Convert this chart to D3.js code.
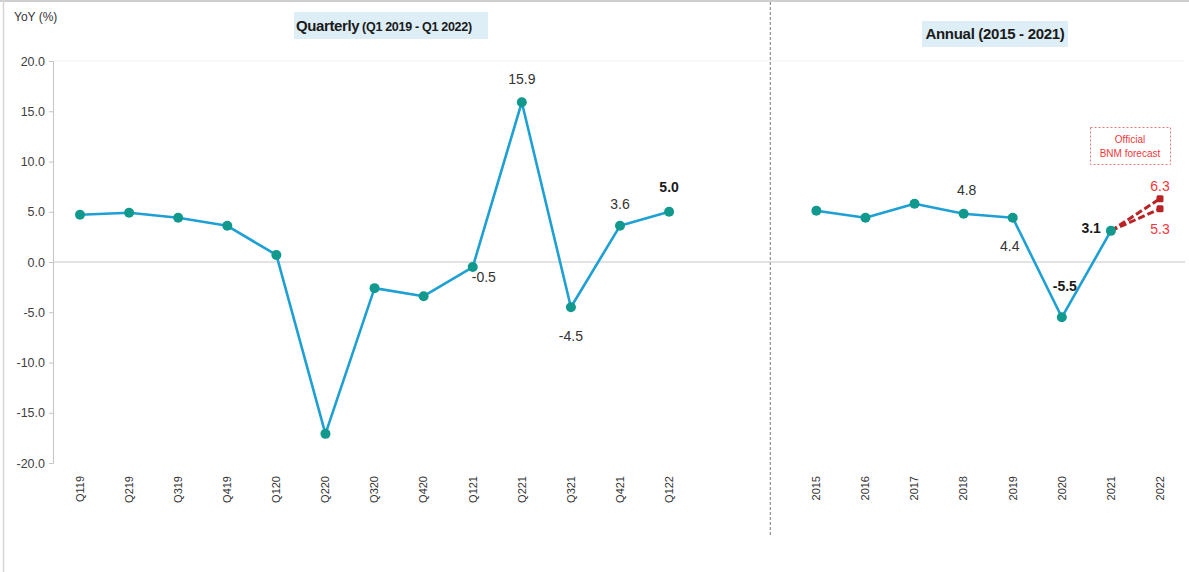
<!DOCTYPE html>
<html>
<head>
<meta charset="utf-8">
<script src="https://cdnjs.cloudflare.com/ajax/libs/d3/7.8.5/d3.min.js"></script>
<style>
  body { margin: 0; background: #fff; }
  svg { display: block; font-family: "Liberation Sans", Arial, sans-serif; }
</style>
</head>
<body>
<svg width="1189" height="572"></svg>
<script>
// data
var quarters = ["Q119","Q219","Q319","Q419","Q120","Q220","Q320","Q420","Q121","Q221","Q321","Q421","Q122"];
var quarterlyGrowth = [4.7, 4.9, 4.4, 3.6, 0.7, -17.1, -2.6, -3.4, -0.5, 15.9, -4.5, 3.6, 5.0];
var years = ["2015","2016","2017","2018","2019","2020","2021"];
var annualGrowth = [5.1, 4.4, 5.8, 4.8, 4.4, -5.5, 3.1];
var forecastYear = "2022";
var forecast2022 = [6.3, 5.3];
var yTicks = [-20, -15, -10, -5, 0, 5, 10, 15, 20];

var svg = d3.select("svg");
var width = 1189, height = 572;

var gaps = ["gapA", "gapB"];
var domain = quarters.concat(gaps, years, [forecastYear]);

var x = d3.scalePoint().domain(domain).range([80, 1160]);
var y = d3.scaleLinear().domain([-20, 20]).range([463, 61]);

// frame
svg.append("rect").attr("x", 0).attr("y", 0).attr("width", width).attr("height", 2).attr("fill", "#cfcfcf");
svg.append("line").attr("x1", 3.5).attr("x2", 3.5).attr("y1", 0).attr("y2", height)
    .attr("stroke", "#d6d6d6").attr("stroke-width", 1.5);

// faint plot top
svg.append("line").attr("x1", 53).attr("x2", 1185).attr("y1", y(20)).attr("y2", y(20))
    .attr("stroke", "#f3f3f3");

// divider
svg.append("line")
    .attr("x1", x("gapB") + 3).attr("x2", x("gapB") + 3)
    .attr("y1", 2).attr("y2", 536)
    .attr("stroke", "#7a7a7a").attr("stroke-width", 1).attr("stroke-dasharray", "3,2");

// y axis
var yAxis = svg.append("g")
    .attr("transform", "translate(53,0)")
    .call(d3.axisLeft(y).tickValues(yTicks).tickSize(4).tickFormat(function (d) { return d.toFixed(1); }));
yAxis.select(".domain").attr("stroke", "#c4c4c4");
yAxis.selectAll(".tick line").attr("stroke", "#c4c4c4");
yAxis.selectAll(".tick text").attr("font-size", 12.5).attr("fill", "#404040")
    .attr("font-family", "Liberation Sans, Arial, sans-serif").attr("x", -8);

// zero line
svg.append("line").attr("x1", 53).attr("x2", 1185).attr("y1", y(0)).attr("y2", y(0))
    .attr("stroke", "#c8c8c8").attr("stroke-width", 1.2);

// x labels
svg.append("g").selectAll("text")
    .data(domain.filter(function (d) { return gaps.indexOf(d) < 0; }))
    .enter().append("text")
    .attr("transform", function (d) { return "translate(" + x(d) + ",476) rotate(-90)"; })
    .attr("dy", "0.35em")
    .attr("text-anchor", "end")
    .attr("font-size", 11)
    .attr("fill", "#333")
    .text(function (d) { return d; });

// y unit
svg.append("text").attr("x", 14).attr("y", 21).attr("font-size", 12).attr("fill", "#333").text("YoY (%)");

// titles
function titleBox(x0, y0, w, h) {
    svg.append("rect").attr("x", x0).attr("y", y0).attr("width", w).attr("height", h).attr("fill", "#deeef6");
}
titleBox(294, 12, 194, 27);
var t1 = svg.append("text").attr("x", 296).attr("y", 31).attr("font-weight", "bold").attr("fill", "#1a1a1a");
t1.append("tspan").attr("font-size", 15).attr("letter-spacing", -0.4).text("Quarterly");
t1.append("tspan").attr("font-size", 12.5).attr("dx", 3).attr("letter-spacing", -0.3).text("(Q1 2019 - Q1 2022)");

titleBox(922, 21, 146, 26);
svg.append("text").attr("x", 995).attr("y", 39).attr("text-anchor", "middle")
    .attr("font-weight", "bold").attr("font-size", 15).attr("letter-spacing", -0.3)
    .attr("fill", "#1a1a1a").text("Annual (2015 - 2021)");

// lines
var line = d3.line()
    .x(function (d) { return x(d.k); })
    .y(function (d) { return y(d.v); });

var qData = quarters.map(function (k, i) { return { k: k, v: quarterlyGrowth[i] }; });
var aData = years.map(function (k, i) { return { k: k, v: annualGrowth[i] }; });

// forecast
var last = aData[aData.length - 1];
var fcColor = "#b92326";
forecast2022.forEach(function (v) {
    svg.append("path")
        .attr("d", line([last, { k: forecastYear, v: v }]))
        .attr("fill", "none").attr("stroke", fcColor).attr("stroke-width", 3)
        .attr("stroke-dasharray", "7,3");
    svg.append("rect")
        .attr("x", x(forecastYear) - 3.5).attr("y", y(v) - 3.5)
        .attr("width", 7).attr("height", 7).attr("rx", 1.5)
        .attr("fill", fcColor);
});

[qData, aData].forEach(function (data) {
    svg.append("path").attr("d", line(data))
        .attr("fill", "none").attr("stroke", "#1ea0d5").attr("stroke-width", 2.6)
        .attr("stroke-linejoin", "round");
    svg.append("g").selectAll("circle").data(data).enter().append("circle")
        .attr("cx", function (d) { return x(d.k); })
        .attr("cy", function (d) { return y(d.v); })
        .attr("r", 5).attr("fill", "#12998e");
});

// data labels: [category, value, dx, dy, anchor, bold]
var labelSpec = [
    ["Q221", 15.9, 0, -18, "middle", false],
    ["Q421", 3.6, 0, -17, "middle", false],
    ["Q122", 5.0, 0, -20, "middle", true],
    ["Q121", -0.5, -1, 15, "start", false],
    ["Q321", -4.5, 0, 34, "middle", false],
    ["2018", 4.8, 3, -19, "middle", false],
    ["2019", 4.4, -3, 33, "middle", false],
    ["2020", -5.5, 3, -26, "middle", true],
    ["2021", 3.1, -10, 2, "end", true]
];
svg.append("g").selectAll("text").data(labelSpec).enter().append("text")
    .attr("x", function (d) { return x(d[0]) + d[2]; })
    .attr("y", function (d) { return y(d[1]) + d[3]; })
    .attr("text-anchor", function (d) { return d[4]; })
    .attr("font-weight", function (d) { return d[5] ? "bold" : "normal"; })
    .attr("font-size", 14)
    .attr("fill", function (d) { return d[5] ? "#1a1a1a" : "#333"; })
    .text(function (d) { return d[1].toFixed(1); });

// forecast labels
svg.append("text").attr("x", x(forecastYear)).attr("y", y(forecast2022[0]) - 8)
    .attr("text-anchor", "middle").attr("font-size", 14).attr("fill", "#f0383c")
    .text(forecast2022[0].toFixed(1));
svg.append("text").attr("x", x(forecastYear)).attr("y", y(forecast2022[1]) + 25)
    .attr("text-anchor", "middle").attr("font-size", 14).attr("fill", "#f0383c")
    .text(forecast2022[1].toFixed(1));

// forecast note
svg.append("rect").attr("x", 1090.5).attr("y", 127.5).attr("width", 80).attr("height", 37)
    .attr("fill", "none").attr("stroke", "#e87a7c").attr("stroke-width", 1)
    .attr("stroke-dasharray", "2,2");
svg.append("text").attr("x", 1130).attr("y", 143).attr("text-anchor", "middle")
    .attr("font-size", 10).attr("fill", "#f0383c").text("Official");
svg.append("text").attr("x", 1130).attr("y", 157).attr("text-anchor", "middle")
    .attr("font-size", 10).attr("fill", "#f0383c").text("BNM forecast");
</script>
</body>
</html>
